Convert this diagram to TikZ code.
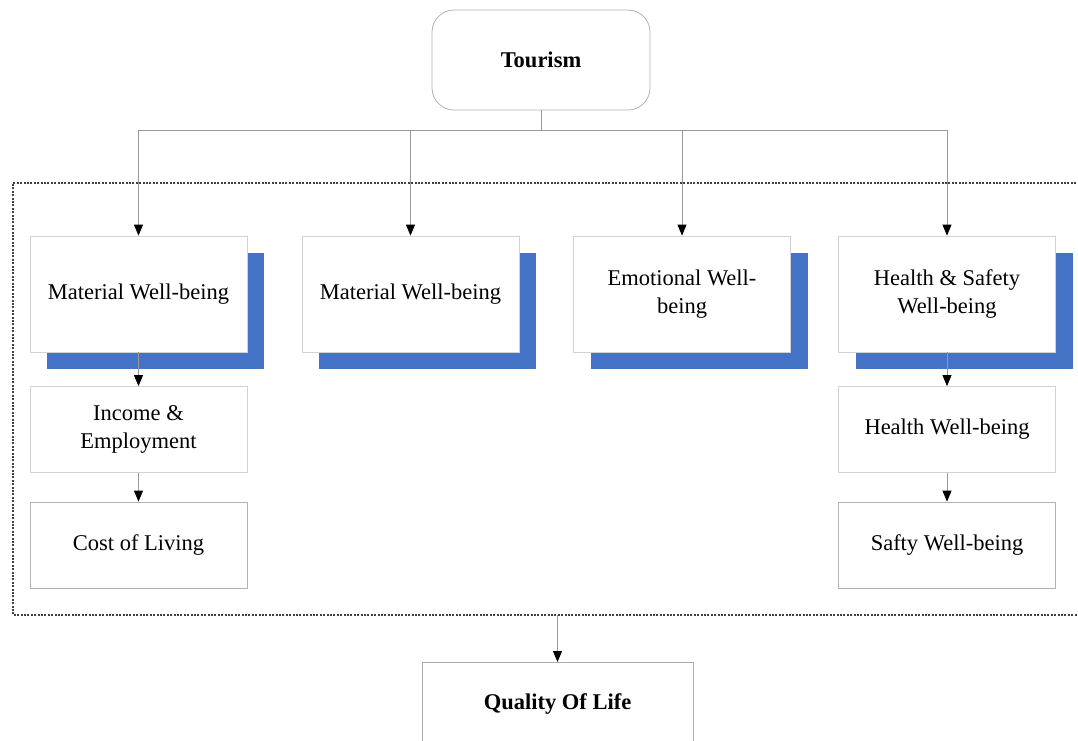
\documentclass[tikz,border=0pt]{standalone}
\usepackage{fontspec}
\setmainfont{Liberation Serif}
\usetikzlibrary{arrows.meta}
\usetikzlibrary{shadows}
\definecolor{wordblue}{RGB}{68,114,196}
\tikzset{
	box/.style = {draw = gray!35, line width = 0.8pt, fill = white, minimum width = 217pt, align = center, inner sep = 2pt},
	blue box/.style = {box, minimum height = 116pt, general shadow = {fill = wordblue, shadow xshift = 17pt, shadow yshift = -17pt}},
	sub box/.style = {box, minimum height = 86pt},
	link/.style = {draw = gray!80, line width = 0.8pt, -{Triangle[length = 11pt, width = 9pt, black]}},
	frame/.style = {draw = black!75, line width = 1.8pt, dash pattern = on 2pt off 1.4pt}
}

\begin{document}
\begin{tikzpicture}[x = 1pt, y = -1pt, font = \fontsize{22.5}{28}\selectfont]
		\useasboundingbox (0,0) rectangle (1078,740);
		% Dotted frame round the well-being domains
		\draw [frame] (1100,183) -- (13,183) -- (13,615) -- (1100,615);
		% Tourism
		\node [draw = gray!60, line width = 0.8pt, rounded corners = 22pt, minimum width = 218pt, minimum height = 100pt, font = \fontsize{22.5}{28}\selectfont\bfseries] (tourism) at (541,60) {Tourism};
		% Domains
		\node [blue box] (matA) at (138.5,294) {Material Well-being};
		\node [blue box] (matB) at (410.5,294) {Material Well-being};
		\node [blue box] (emo) at (682,294) {Emotional Well-\\being};
		\node [blue box] (health) at (947,294) {Health \& Safety\\Well-being};
		% Left column
		\node [sub box] (income) at (138.5,429.5) {Income \&\\Employment};
		\node [sub box, draw = gray!60] (cost) at (138.5,545) {Cost of Living};
		% Right column
		\node [sub box] (hwell) at (947,429.5) {Health Well-being};
		\node [sub box, draw = gray!60] (swell) at (947,545) {Safty Well-being};
		% Quality of life
		\node [box, draw = gray!65, anchor = north, minimum width = 271pt, minimum height = 84pt, font = \fontsize{22.5}{28}\selectfont\bfseries] (qol) at (557.5,662) {Quality Of Life};
		% Tourism to the domains
		\coordinate (split) at (541,130);
		\draw [link] (tourism.south) -- (split) -| (matA.north);
		\draw [link] (split) -| (matB.north);
		\draw [link] (split) -| (emo.north);
		\draw [link] (split) -| (health.north);
		% Domain details
		\draw [link] (matA.south) -- (income.north);
		\draw [link] (income.south) -- (cost.north);
		\draw [link] (health.south) -- (hwell.north);
		\draw [link] (hwell.south) -- (swell.north);
		% Frame to quality of life
		\coordinate (qolin) at (557.5,615);
		\draw [link] (qolin) -- (qol.north);
\end{tikzpicture}
\end{document}
